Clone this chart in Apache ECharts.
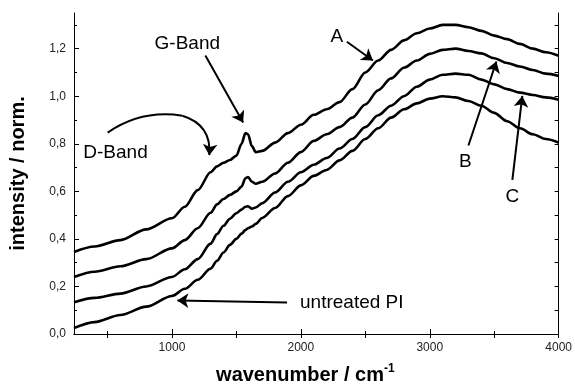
<!DOCTYPE html>
<html><head><meta charset="utf-8">
<script src="https://cdn.jsdelivr.net/npm/echarts@6/dist/echarts.min.js"></script>
<style>html,body{margin:0;padding:0;background:#fff}#c{width:575px;height:390px}</style>
</head><body><div id="c"></div>
<script>
const wavenumbers = [240,400,600,800,1000,1100,1200,1300,1350,1400,1450,1500,1540,1570,1590,1620,1650,1700,1800,1900,2000,2100,2200,2300,2400,2500,2600,2700,2800,2900,3000,3100,3200,3300,3400,3500,3600,3700,3800,3900,4000];
const curveA = [0.345,0.368,0.395,0.44,0.487,0.535,0.605,0.68,0.705,0.72,0.732,0.75,0.8,0.845,0.84,0.79,0.765,0.77,0.805,0.845,0.88,0.922,0.945,0.975,1.03,1.1,1.15,1.195,1.235,1.265,1.285,1.3,1.3,1.29,1.275,1.255,1.24,1.22,1.2,1.185,1.17];
const curveB = [0.24,0.262,0.285,0.315,0.36,0.395,0.445,0.51,0.545,0.568,0.585,0.6,0.62,0.655,0.66,0.64,0.632,0.64,0.675,0.72,0.765,0.812,0.84,0.87,0.91,0.965,1.025,1.075,1.12,1.15,1.178,1.195,1.2,1.19,1.18,1.16,1.14,1.125,1.11,1.095,1.085];
const curveC = [0.134,0.152,0.17,0.2,0.24,0.272,0.315,0.38,0.42,0.455,0.485,0.508,0.523,0.535,0.537,0.527,0.532,0.55,0.595,0.64,0.68,0.712,0.74,0.78,0.82,0.87,0.92,0.96,1.0,1.04,1.07,1.09,1.095,1.09,1.07,1.05,1.03,1.015,1.005,0.995,0.985];
const curvePI = [0.025,0.05,0.08,0.115,0.16,0.19,0.228,0.275,0.308,0.343,0.375,0.4,0.422,0.437,0.445,0.452,0.463,0.488,0.53,0.58,0.625,0.665,0.69,0.73,0.77,0.82,0.865,0.91,0.945,0.97,0.99,1.0,0.995,0.98,0.96,0.93,0.895,0.865,0.84,0.82,0.805];

const xMajorTicks = [1000,2000,3000,4000];
const xMinorTicks = [500,1500,2500,3500];
const xAllTicks = [500,1000,1500,2000,2500,3000,3500,4000];
const yMajorTicks = [0,0.2,0.4,0.6,0.8,1.0,1.2];
const yMinorTicks = [0.1,0.3,0.5,0.7,0.9,1.1,1.3];
const yAllTicks = [0,0.1,0.2,0.3,0.4,0.5,0.6,0.7,0.8,0.9,1.0,1.1,1.2,1.3];

// annotations (data coordinates)
const textLabels = [
  {name:'G-Band', coord:[1119,1.221]},
  {name:'D-Band', coord:[562,0.764]},
  {name:'A', coord:[2279,1.25]},
  {name:'B', coord:[3277,0.723]},
  {name:'C', coord:[3641,0.577]},
  {name:'untreated PI', coord:[2395,0.133]}
];
const arrows = [
  {from:[1259,1.171], to:[1552,0.889], curve:0},
  {from:[2357,1.229], to:[2559,1.150], curve:0},
  {from:[1081,0.918], to:[1290,0.752], curve:0.4},
  {from:[3300,0.793], to:[3517,1.146], curve:0},
  {from:[3641,0.648], to:[3718,1.001], curve:0},
  {from:[1893,0.133], to:[1042,0.141], curve:0}
];
const arrowTails = [
  {from:[501,0.847], to:[1081,0.918], curve:0.2}
];

const XMIN = 240, XMAX = 4000, YMIN = 0, YMAX = 1.35;
const FONT = '"Liberation Sans", Arial, sans-serif';

function mk(vals){ return wavenumbers.map((w,i)=>[w, vals[i]]); }
const lineStyle = {color:'#000', width:2.6};
function baseSeries(vals){
  return {type:'line', data:mk(vals), showSymbol:false, symbol:'none', smooth:0.3, smoothMonotone:'x',
    lineStyle:lineStyle, itemStyle:{color:'#000'}, silent:true, animation:false, z:3};
}
const sPI = baseSeries(curvePI);
sPI.markPoint = {
  silent:true, animation:false, symbol:'circle', symbolSize:0,
  label:{show:true, position:'inside', formatter:p=>p.name, color:'#000', fontSize:19, fontFamily:FONT},
  data: textLabels.map(t=>({name:t.name, coord:t.coord}))
};
function linesSeries(list, sym){
  return {
    type:'lines', coordinateSystem:'cartesian2d', xAxisIndex:0, yAxisIndex:0,
    silent:true, animation:false, z:4,
    symbol:sym, symbolSize:11,
    lineStyle:{color:'#000', width:2, opacity:1},
    data: list.map(a=>({coords:[a.from, a.to], lineStyle:{curveness:a.curve, color:'#000', width:2}}))
  };
}

const axLine = {show:true, lineStyle:{color:'#000', width:1}};
const tickStyle = {color:'#000', width:1};
function xAx(pos, ticks, len, labels, showLine){
  return {type:'value', min:XMIN, max:XMAX, position:pos,
    axisLine: showLine ? axLine : {show:false},
    axisTick:{show:true, inside:true, length:len, lineStyle:tickStyle, customValues:ticks},
    axisLabel: labels ? {show:true, customValues:labels, color:'#222', fontSize:12, fontFamily:FONT, margin:8,
      formatter:v=>String(Math.round(v))} : {show:false},
    splitLine:{show:false}};
}
function yAx(pos, ticks, len, labels, showLine){
  return {type:'value', min:YMIN, max:YMAX, position:pos,
    axisLine: showLine ? axLine : {show:false},
    axisTick:{show:true, inside:true, length:len, lineStyle:tickStyle, customValues:ticks},
    axisLabel: labels ? {show:true, customValues:labels, color:'#222', fontSize:12, fontFamily:FONT, margin:8,
      formatter:v=>v.toFixed(1).replace('.',',')} : {show:false},
    splitLine:{show:false}};
}
const xMain = xAx('bottom', xMajorTicks, 5, xMajorTicks, true);
xMain.name = 'wavenumber / cm{sup|-1}';
xMain.nameLocation = 'middle';
xMain.nameGap = 29;
xMain.nameTextStyle = {fontSize:20, fontWeight:'bold', color:'#000', fontFamily:FONT, padding:[0,22,0,0],
  rich:{sup:{fontSize:12, fontWeight:'bold', color:'#000', fontFamily:FONT, padding:[0,0,12,0]}}};
const yMain = yAx('left', yMajorTicks, 5, yMajorTicks, true);
yMain.name = 'intensity / norm.';
yMain.nameLocation = 'middle';
yMain.nameGap = 46;
yMain.nameTextStyle = {fontSize:20, fontWeight:'bold', color:'#000', fontFamily:FONT};

const chart = echarts.init(document.getElementById('c'), null, {renderer:'canvas'});
chart.setOption({
  animation:false,
  backgroundColor:'#fff',
  grid:{left:73, right:16, top:13, bottom:51, containLabel:false},
  xAxis:[xMain, xAx('bottom', xMinorTicks, 3, null, false), xAx('top', xAllTicks, 4, null, true)],
  yAxis:[yMain, yAx('left', yMinorTicks, 3, null, false), yAx('right', yAllTicks, 4, null, true)],
  series:[baseSeries(curveA), baseSeries(curveB), baseSeries(curveC), sPI,
    linesSeries(arrows, ['none','arrow']), linesSeries(arrowTails, ['none','none'])]
});
</script></body></html>
